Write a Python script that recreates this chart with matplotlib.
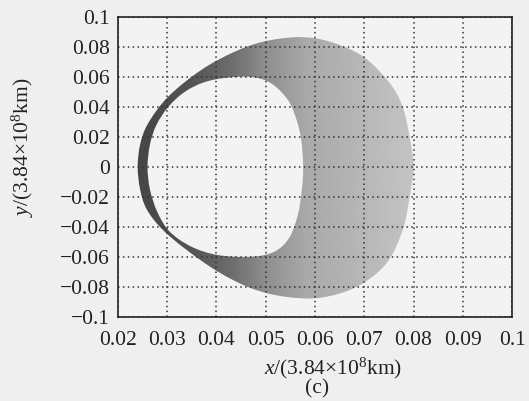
import numpy as np
import matplotlib
matplotlib.use("Agg")
import matplotlib.pyplot as plt
from matplotlib.path import Path
from matplotlib.patches import PathPatch

# outer edge of the orbit family (units of 3.84e8 km)
outer_x = [0.0800, 0.0792, 0.0778, 0.0752, 0.0698, 0.0630, 0.0568, 0.0498,
           0.0437, 0.0369, 0.0302, 0.0261, 0.0245, 0.0240,
           0.0245, 0.0258, 0.0288, 0.0335, 0.0403, 0.0471, 0.0538, 0.0610,
           0.0685, 0.0745, 0.0778, 0.0792]
outer_y = [0.0000, 0.0200, 0.0400, 0.0558, 0.0736, 0.0836, 0.0866, 0.0838,
           0.0769, 0.0647, 0.0469, 0.0290, 0.0150, 0.0000,
           -0.0150, -0.0280, -0.0409, -0.0542, -0.0698, -0.0809, -0.0864, -0.0872,
           -0.0798, -0.0642, -0.0420, -0.0200]

# inner edge (the empty hole)
inner_x = [0.0576, 0.0572, 0.0562, 0.0545, 0.0511, 0.0471, 0.0420, 0.0375,
           0.0335, 0.0302, 0.0278, 0.0265, 0.0260, 0.0265, 0.0280, 0.0305,
           0.0349, 0.0403, 0.0471, 0.0518, 0.0548, 0.0565, 0.0573]
inner_y = [0.0000, 0.0180, 0.0320, 0.0447, 0.0558, 0.0600, 0.0595, 0.0565,
           0.0500, 0.0400, 0.0280, 0.0150, 0.0000, -0.0150, -0.0300, -0.0431,
           -0.0531, -0.0587, -0.0598, -0.0564, -0.0470, -0.0320, -0.0160]

xticks = [0.02, 0.03, 0.04, 0.05, 0.06, 0.07, 0.08, 0.09, 0.1]
xtick_labels = ["0.02", "0.03", "0.04", "0.05", "0.06", "0.07", "0.08", "0.09", "0.1"]
yticks = [-0.1, -0.08, -0.06, -0.04, -0.02, 0, 0.02, 0.04, 0.06, 0.08, 0.1]
ytick_labels = ["\u22120.1", "\u22120.08", "\u22120.06", "\u22120.04", "\u22120.02", "0",
                "0.02", "0.04", "0.06", "0.08", "0.1"]


def smooth_closed(xs, ys):
    # closed Catmull-Rom curve through the points, as bezier path pieces
    pts = np.column_stack([xs, ys])
    n = len(pts)
    verts = [pts[0]]
    codes = [Path.MOVETO]
    for i in range(n):
        p0, p1, p2, p3 = pts[i - 1], pts[i], pts[(i + 1) % n], pts[(i + 2) % n]
        verts += [p1 + (p2 - p0) / 6, p2 - (p3 - p1) / 6, p2]
        codes += [Path.CURVE4] * 3
    return verts, codes


plt.rcParams["font.family"] = ["Liberation Serif", "DejaVu Serif"]
plt.rcParams["mathtext.fontset"] = "custom"
plt.rcParams["mathtext.rm"] = "Liberation Serif"
plt.rcParams["mathtext.it"] = "Liberation Serif:italic"

fig = plt.figure(figsize=(5.29, 4.01), dpi=100, facecolor="#efefef")
ax = fig.add_axes([0.223, 0.2095, 0.745, 0.748])
ax.set_facecolor("#f3f3f3")

ov, oc = smooth_closed(outer_x, outer_y)
iv, ic = smooth_closed(inner_x[::-1], inner_y[::-1])
band = Path(ov + iv, oc + ic)
patch = PathPatch(band, facecolor="none", edgecolor="none")
ax.add_patch(patch)

# shading: dense overlap on the left, sparse rings on the right
shade_x = [0.023, 0.035, 0.043, 0.050, 0.058, 0.070, 0.081]
shade_v = [0.27, 0.33, 0.43, 0.56, 0.66, 0.72, 0.77]
gx = np.linspace(0.023, 0.081, 300)
grad = np.interp(gx, shade_x, shade_v)[None, :]
img = ax.imshow(grad, extent=[0.023, 0.081, -0.09, 0.09], cmap="gray",
                vmin=0, vmax=1, aspect="auto", interpolation="bilinear", zorder=1)
img.set_clip_path(patch)

ax.set_xlim(0.02, 0.1)
ax.set_ylim(-0.1, 0.1)
ax.set_xticks(xticks)
ax.set_xticklabels(xtick_labels)
ax.set_yticks(yticks)
ax.set_yticklabels(ytick_labels)
ax.tick_params(length=0, labelsize=15.5, colors="#222222")
ax.tick_params(axis="x", pad=10)
ax.tick_params(axis="y", pad=6)
ax.grid(True, color="#333333", linestyle=(0, (1, 2.2)), linewidth=1.1, zorder=3)
ax.set_axisbelow(False)
for s in ax.spines.values():
    s.set_color("#222222")
    s.set_linewidth(1.2)
    s.set_zorder(4)

fig.text(333 / 529, 1 - 368 / 401, r"$x$/(3.84×10$^{8}$km)", ha="center", va="center",
         fontsize=15.5, color="#222222")
fig.text(317 / 529, 1 - 389 / 401, "(c)", ha="center", va="center",
         fontsize=15.5, color="#222222")
fig.text(23 / 529, 1 - 147 / 401, r"$y$/(3.84×10$^{8}$km)", ha="center", va="center",
         rotation=90, fontsize=15.5, color="#222222")

fig.savefig("out.png", dpi=100, facecolor=fig.get_facecolor())
